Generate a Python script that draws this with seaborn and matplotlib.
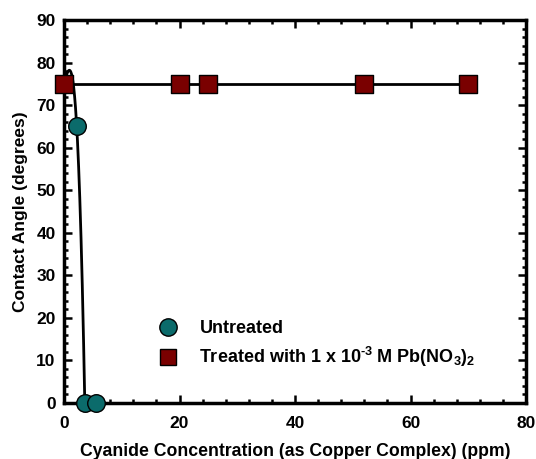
import numpy as np
import pandas as pd
import matplotlib
matplotlib.use("Agg")
import matplotlib.pyplot as plt
from matplotlib.ticker import MultipleLocator
from matplotlib.lines import Line2D
import seaborn as sns

# Contact angle vs cyanide concentration
untreated_ppm = [0.0, 2.2, 3.6, 5.5]
untreated_angle = [75.0, 65.0, 0.0, 0.0]
treated_ppm = [0.0, 20.0, 25.0, 52.0, 70.0]
treated_angle = [75.0, 75.0, 75.0, 75.0, 75.0]

untreated_label = "Untreated"
treated_label = r"Treated with 1 x 10$^{\text{-3}}$ M Pb(NO$_{3}$)$_{2}$"
x_label = "Cyanide Concentration (as Copper Complex) (ppm)"
y_label = "Contact Angle (degrees)"

sns.set_theme(style="ticks")
plt.rcParams["font.family"] = ["Liberation Sans", "DejaVu Sans"]
plt.rcParams["font.weight"] = "bold"
plt.rcParams["text.color"] = "black"
plt.rcParams["axes.labelcolor"] = "black"
plt.rcParams["mathtext.fontset"] = "custom"
plt.rcParams["mathtext.rm"] = "Liberation Sans:bold"
plt.rcParams["mathtext.it"] = "Liberation Sans:bold"
plt.rcParams["mathtext.bf"] = "Liberation Sans:bold"

teal = "#0b6b6b"
maroon = "#7a0000"

fig = plt.figure(figsize=(5.36, 4.59), dpi=100)
ax = fig.add_axes([64 / 536, 1 - 403 / 459, (526 - 64) / 536, (403 - 20) / 459])

df_u = pd.DataFrame({"ppm": untreated_ppm, "angle": untreated_angle})
df_t = pd.DataFrame({"ppm": treated_ppm, "angle": treated_angle})

# Fit for untreated: y = a + b x + d x^3 through the points before the plateau at zero
fit_pts = df_u.iloc[:3]
A = np.column_stack([np.ones(len(fit_pts)), fit_pts["ppm"], fit_pts["ppm"] ** 3])
coef, *_ = np.linalg.lstsq(A, fit_pts["angle"].to_numpy(), rcond=None)
xf = np.linspace(fit_pts["ppm"].min(), fit_pts["ppm"].max(), 200)
yf = coef[0] + coef[1] * xf + coef[2] * xf ** 3
ax.plot(xf, yf, color="black", lw=2, zorder=2, clip_on=False)

# Treated: constant fit
t_mean = df_t["angle"].mean()
ax.plot([df_t["ppm"].min(), df_t["ppm"].max()], [t_mean, t_mean],
        color="black", lw=2, zorder=2, clip_on=False)

sns.scatterplot(data=df_u, x="ppm", y="angle", ax=ax, marker="o", s=160,
                color=teal, edgecolor="black", linewidth=1, zorder=3,
                clip_on=False, legend=False)
sns.scatterplot(data=df_t, x="ppm", y="angle", ax=ax, marker="s", s=160,
                color=maroon, edgecolor="black", linewidth=1, zorder=4,
                clip_on=False, legend=False)

ax.set_xlim(0, 80)
ax.set_ylim(0, 90)
ax.xaxis.set_major_locator(MultipleLocator(20))
ax.xaxis.set_minor_locator(MultipleLocator(4))
ax.yaxis.set_major_locator(MultipleLocator(10))
ax.yaxis.set_minor_locator(MultipleLocator(2))
ax.tick_params(which="both", direction="in", top=True, right=True, width=1.8,
               labelsize=12.5, colors="black")
ax.tick_params(axis="x", which="major", length=6, pad=9)
ax.tick_params(axis="y", which="major", length=6, pad=6)
ax.tick_params(which="minor", length=3)
for lab in ax.get_xticklabels() + ax.get_yticklabels():
    lab.set_fontweight("bold")
for sp in ax.spines.values():
    sp.set_visible(True)
    sp.set_linewidth(2.5)
    sp.set_color("black")

ax.set_xlabel(x_label, fontsize=12.7, fontweight="bold", labelpad=9)
ax.set_ylabel(y_label, fontsize=12.5, fontweight="bold", labelpad=6)

handles = [
    Line2D([], [], ls="none", marker="o", markersize=12.5, markerfacecolor=teal,
           markeredgecolor="black", markeredgewidth=1),
    Line2D([], [], ls="none", marker="s", markersize=11.5, markerfacecolor=maroon,
           markeredgecolor="black", markeredgewidth=1),
]
ax.legend(handles, [untreated_label, treated_label], loc="upper left",
          bbox_to_anchor=(0.17, 0.235), frameon=False,
          handletextpad=0.75, labelspacing=0.45, borderaxespad=0,
          prop={"weight": "bold", "size": 13})

fig.savefig("out.png", dpi=100)
